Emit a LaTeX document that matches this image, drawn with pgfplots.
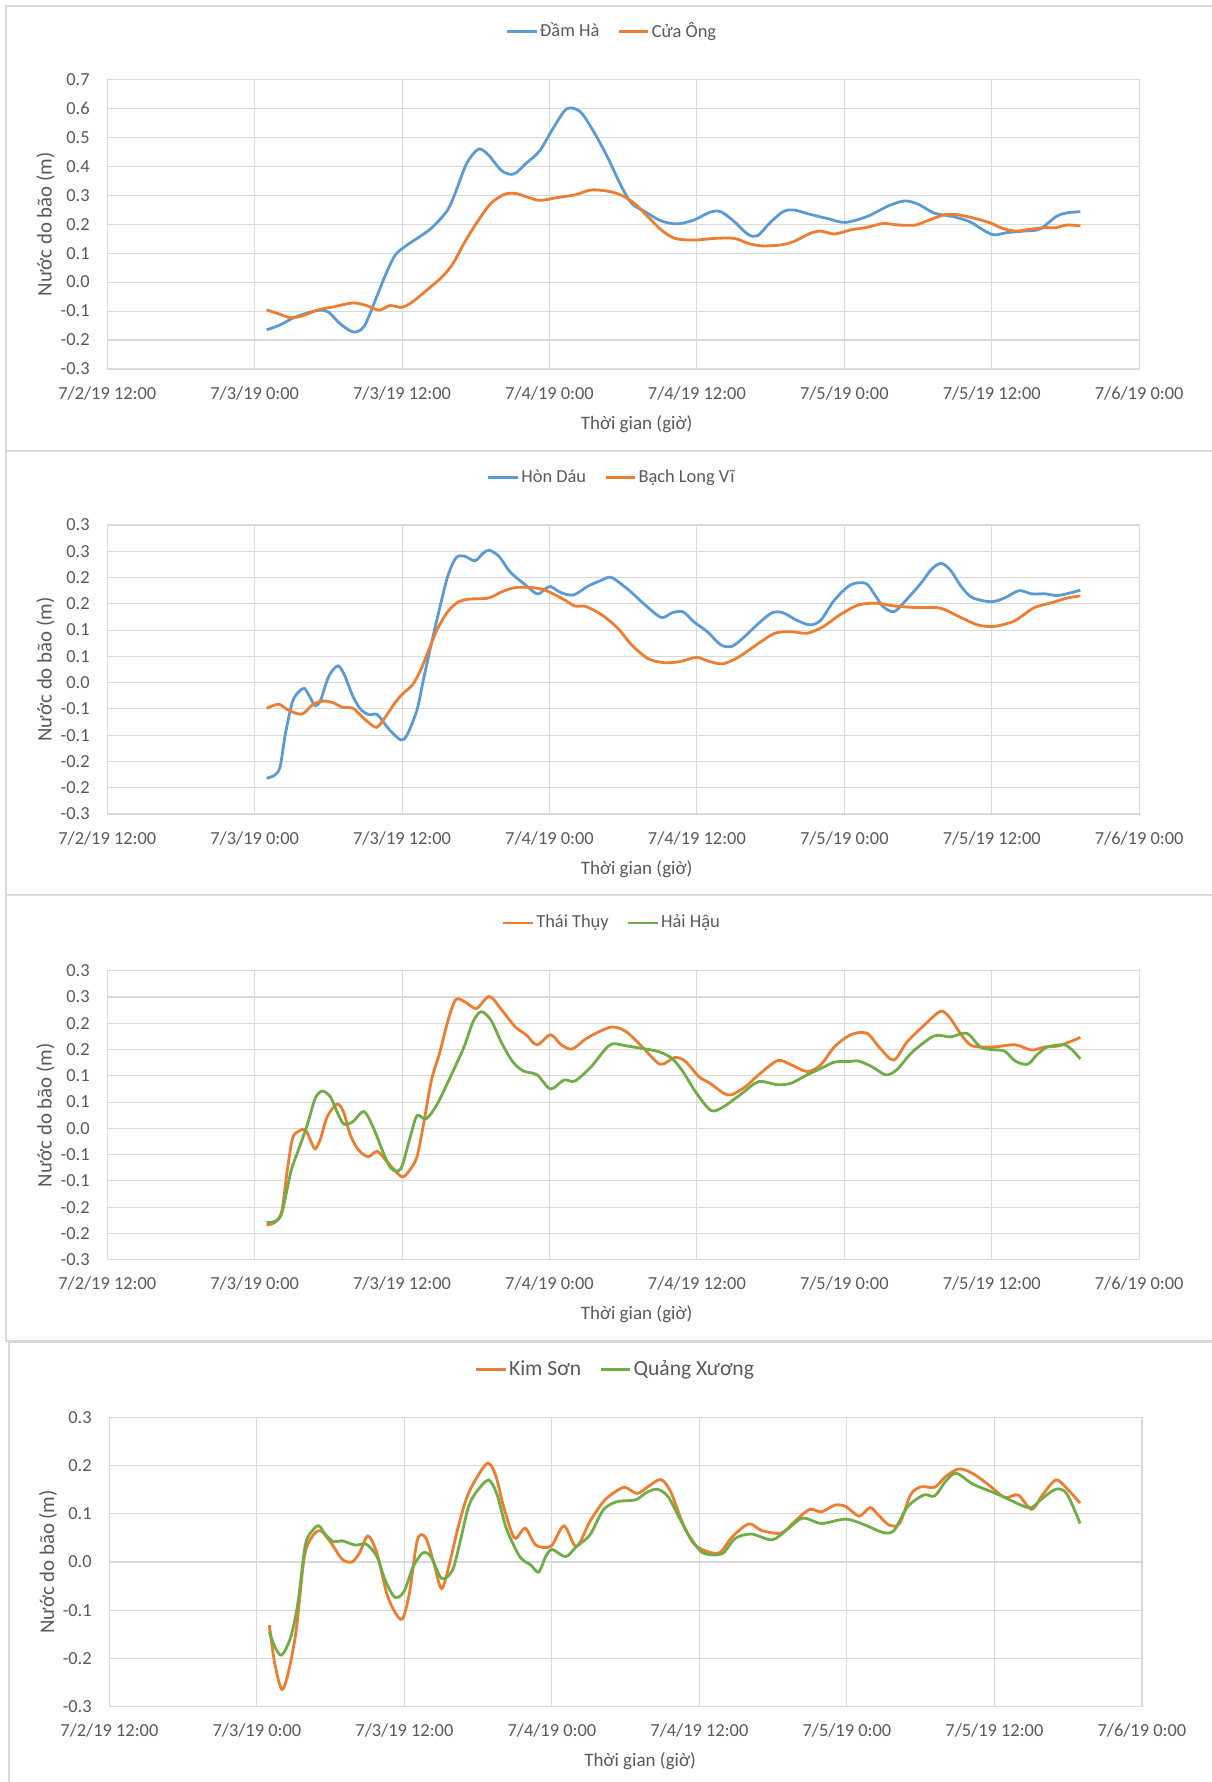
\documentclass[border=0pt]{standalone}
\usepackage{fontspec}
\setmainfont{Carlito}
\usepackage{pgfplots}
\pgfplotsset{compat=1.18}
\definecolor{cblue}{HTML}{5B9BD5}
\definecolor{corange}{HTML}{ED7D31}
\definecolor{cgreen}{HTML}{70AD47}
\definecolor{cgrid}{HTML}{D9D9D9}
\definecolor{ctext}{HTML}{595959}
\definecolor{cborder}{HTML}{D9D9D9}
\pgfplotsset{
  panel/.style={
    scale only axis, width=515.9pt, height=144.85pt,
    xmin=-12, xmax=72,
    xtick={-12,0,12,24,36,48,60,72},
    xticklabels={7/2/19 12:00,7/3/19 0:00,7/3/19 12:00,7/4/19 0:00,7/4/19 12:00,7/5/19 0:00,7/5/19 12:00,7/6/19 0:00},
    grid=major, major grid style={cgrid, line width=0.55pt},
    axis line style={cgrid, line width=0.6pt},
    major tick length=0pt,
    tick label style={font=\fontsize{9.2}{11}\selectfont, text=ctext},
    xticklabel style={inner sep=0pt, anchor=center, yshift=-12pt},
    yticklabel style={inner sep=0pt, anchor=east, xshift=-8.65pt},
    xlabel={Thời gian (giờ)},
    ylabel={Nước do bão (m)},
    label style={text=ctext},
    xlabel style={font=\fontsize{9.5}{11}\selectfont, at={(axis description cs:0.513,-0.19)}, anchor=center},
    ylabel style={font=\fontsize{10.4}{12}\selectfont, at={(axis description cs:-0.0599,0.5)}, anchor=center},
    legend columns=2,
    legend style={draw=none, fill=none, at={(axis description cs:0.489,1.165)}, anchor=center,
      font=\fontsize{9.2}{11}\selectfont, text=ctext,
      nodes={inner xsep=1pt, inner ysep=0.5pt},
      /tikz/every even column/.append style={column sep=8pt}},
    legend image code/.code={\draw[##1, line width=1.4pt] (0pt,0pt) -- (14.8pt,0pt);},
    every axis plot/.append style={line width=1.4pt, smooth, tension=0.5},
  }
}
\begin{document}
\begin{tikzpicture}
\useasboundingbox (0,0) rectangle (605.5pt,-891pt);
\draw[cborder, line width=0.7pt] (3pt,-3pt) rectangle (608pt,-225.5pt);
\draw[cborder, line width=0.7pt] (3pt,-225.5pt) rectangle (608pt,-447.5pt);
\draw[cborder, line width=0.7pt] (3pt,-447.5pt) rectangle (608pt,-670.5pt);
\draw[cborder, line width=0.7pt] (4.5pt,-671pt) rectangle (608pt,-896pt);
% ---------------- Panel 1
\begin{axis}[panel, anchor=south west, at={(53.65pt,-184.5pt)},
  ymin=-0.3, ymax=0.7, ytick={-0.3,-0.2,-0.1,0,0.1,0.2,0.3,0.4,0.5,0.6,0.7},
  yticklabels={-0.3,-0.2,-0.1,0.0,0.1,0.2,0.3,0.4,0.5,0.6,0.7}]
\addplot[cblue] coordinates {
(0.97,-0.165)(2.07,-0.148)(3.17,-0.123)(4.49,-0.104)(5.37,-0.097)(6.03,-0.104)(6.91,-0.142)(8.01,-0.172)(8.89,-0.154)(9.77,-0.068)(10.65,0.025)(11.45,0.094)(12.41,0.128)(13.73,0.165)(14.61,0.195)(15.71,0.249)(16.37,0.312)(17.26,0.410)(18.22,0.459)(19.02,0.439)(20.12,0.384)(21.09,0.373)(22.10,0.410)(23.20,0.453)(24.30,0.531)(25.40,0.598)(26.50,0.588)(27.60,0.519)(28.70,0.433)(29.80,0.335)(30.68,0.272)(31.78,0.243)(33.10,0.211)(34.42,0.201)(35.74,0.214)(37.06,0.241)(37.94,0.243)(39.04,0.209)(40.15,0.165)(40.94,0.160)(41.91,0.203)(43.01,0.243)(43.89,0.249)(45.21,0.234)(46.75,0.218)(48.07,0.206)(49.83,0.226)(51.59,0.263)(52.91,0.280)(54.01,0.269)(55.33,0.238)(56.87,0.226)(58.19,0.209)(59.30,0.180)(60.18,0.163)(61.28,0.171)(62.60,0.176)(63.92,0.183)(65.24,0.226)(66.12,0.239)(67.22,0.243)
};
\addlegendentry{Đầm Hà}
\addplot[corange] coordinates {
(0.97,-0.096)(1.85,-0.108)(2.95,-0.123)(4.05,-0.114)(5.15,-0.096)(6.47,-0.085)(8.01,-0.072)(9.11,-0.081)(10.13,-0.097)(11.01,-0.081)(11.97,-0.087)(12.85,-0.068)(14.17,-0.022)(15.28,0.019)(16.16,0.065)(17.04,0.134)(18.14,0.209)(19.24,0.272)(20.34,0.303)(21.22,0.306)(22.10,0.295)(23.20,0.282)(24.52,0.291)(26.06,0.301)(27.38,0.318)(28.70,0.314)(29.80,0.301)(30.90,0.272)(32.00,0.226)(33.10,0.180)(34.20,0.151)(35.74,0.145)(37.51,0.151)(39.04,0.151)(40.15,0.134)(41.25,0.125)(42.79,0.128)(43.89,0.140)(45.21,0.168)(46.09,0.176)(47.19,0.166)(48.51,0.180)(49.83,0.189)(51.15,0.202)(52.47,0.197)(53.79,0.197)(54.89,0.214)(56.21,0.233)(57.31,0.232)(58.63,0.220)(59.96,0.203)(60.84,0.186)(61.94,0.176)(63.04,0.182)(64.36,0.188)(65.24,0.188)(66.12,0.197)(67.22,0.194)
};
\addlegendentry{Cửa Ông}
\end{axis}
% ---------------- Panel 2
\begin{axis}[panel, anchor=south west, at={(53.65pt,-407pt)}, height=144.5pt,
  ymin=-0.25, ymax=0.3, ytick={-0.25,-0.2,-0.15,-0.1,-0.05,0,0.05,0.1,0.15,0.2,0.25,0.3},
  yticklabels={-0.3,-0.2,-0.2,-0.1,-0.1,0.0,0.1,0.1,0.2,0.2,0.3,0.3}]
\addplot[cblue] coordinates {
(0.97,-0.182)(1.63,-0.176)(2.07,-0.160)(2.51,-0.096)(3.08,-0.036)(3.61,-0.017)(4.05,-0.011)(4.49,-0.027)(4.93,-0.044)(5.37,-0.033)(6.03,0.012)(6.78,0.032)(7.35,0.012)(8.01,-0.027)(8.67,-0.052)(9.33,-0.061)(9.99,-0.061)(10.87,-0.087)(11.89,-0.109)(12.41,-0.099)(13.21,-0.052)(13.73,0.005)(14.39,0.075)(15.05,0.141)(15.71,0.202)(16.37,0.237)(17.04,0.241)(17.92,0.232)(18.58,0.246)(19.10,0.252)(19.90,0.240)(20.78,0.211)(21.88,0.189)(22.98,0.169)(23.64,0.178)(24.08,0.183)(24.96,0.171)(25.97,0.167)(27.16,0.184)(28.26,0.195)(29.05,0.200)(30.46,0.176)(31.78,0.148)(33.10,0.124)(33.98,0.133)(34.86,0.135)(35.74,0.116)(36.84,0.097)(37.94,0.072)(38.83,0.069)(39.71,0.084)(41.03,0.113)(42.13,0.133)(43.01,0.133)(44.11,0.119)(45.21,0.110)(46.09,0.119)(47.19,0.157)(48.51,0.186)(49.74,0.189)(50.49,0.167)(51.15,0.145)(52.03,0.135)(52.91,0.154)(54.23,0.189)(55.11,0.216)(55.89,0.227)(56.64,0.214)(57.52,0.183)(58.41,0.162)(59.94,0.154)(61.04,0.161)(62.23,0.175)(63.26,0.169)(64.36,0.169)(65.46,0.166)(67.22,0.176)
};
\addlegendentry{Hòn Dáu}
\addplot[corange] coordinates {
(0.97,-0.049)(1.94,-0.041)(2.73,-0.052)(3.83,-0.060)(4.71,-0.042)(5.59,-0.035)(6.47,-0.039)(7.13,-0.047)(8.01,-0.049)(8.89,-0.068)(9.90,-0.085)(10.65,-0.065)(11.31,-0.042)(11.97,-0.023)(12.85,-0.004)(13.51,0.024)(14.17,0.062)(14.83,0.100)(15.71,0.135)(16.60,0.154)(17.48,0.159)(19.02,0.161)(20.12,0.173)(21.22,0.181)(22.54,0.181)(23.64,0.176)(24.96,0.161)(26.06,0.146)(26.94,0.145)(28.26,0.129)(29.58,0.103)(30.68,0.072)(32.00,0.046)(33.31,0.038)(34.63,0.040)(35.96,0.048)(37.06,0.040)(38.16,0.036)(39.48,0.050)(41.03,0.075)(42.35,0.094)(43.67,0.097)(44.99,0.094)(46.31,0.107)(47.63,0.129)(49.17,0.148)(50.71,0.151)(52.03,0.146)(53.79,0.143)(55.77,0.142)(57.31,0.126)(58.85,0.110)(60.18,0.107)(61.72,0.116)(62.60,0.129)(63.48,0.143)(65.02,0.153)(66.12,0.161)(67.22,0.165)
};
\addlegendentry{Bạch Long Vĩ}
\end{axis}
% ---------------- Panel 3
\begin{axis}[panel, anchor=south west, at={(53.65pt,-629.85pt)}, height=144.5pt,
  ymin=-0.25, ymax=0.3, ytick={-0.25,-0.2,-0.15,-0.1,-0.05,0,0.05,0.1,0.15,0.2,0.25,0.3},
  yticklabels={-0.3,-0.2,-0.2,-0.1,-0.1,0.0,0.1,0.1,0.2,0.2,0.3,0.3}]
\addplot[corange] coordinates {
(0.97,-0.184)(1.63,-0.179)(2.20,-0.158)(2.64,-0.082)(3.08,-0.019)(3.61,-0.005)(4.14,-0.003)(4.58,-0.025)(4.93,-0.039)(5.37,-0.019)(5.90,0.022)(6.69,0.046)(7.22,0.032)(7.79,-0.013)(8.45,-0.041)(9.24,-0.054)(9.99,-0.044)(10.87,-0.066)(11.97,-0.092)(12.63,-0.079)(13.21,-0.054)(13.73,0.006)(14.39,0.092)(15.05,0.143)(15.71,0.203)(16.37,0.245)(17.17,0.240)(18.05,0.228)(19.10,0.251)(20.12,0.225)(21.22,0.193)(22.10,0.178)(22.98,0.159)(24.08,0.178)(24.96,0.159)(25.84,0.151)(26.94,0.170)(28.04,0.184)(29.14,0.193)(30.24,0.184)(31.56,0.155)(33.01,0.122)(34.20,0.135)(35.08,0.127)(36.18,0.098)(37.06,0.086)(38.16,0.067)(38.83,0.064)(39.93,0.079)(41.03,0.102)(42.57,0.129)(43.67,0.121)(44.99,0.108)(46.09,0.121)(47.19,0.155)(48.51,0.178)(49.83,0.181)(50.93,0.152)(52.03,0.130)(53.13,0.165)(54.67,0.200)(55.86,0.223)(56.64,0.209)(57.52,0.178)(58.41,0.157)(60.16,0.155)(61.92,0.159)(63.24,0.149)(64.34,0.155)(65.46,0.157)(67.22,0.173)
};
\addlegendentry{Thái Thụy}
\addplot[cgreen] coordinates {
(0.97,-0.179)(1.63,-0.177)(2.20,-0.162)(2.95,-0.082)(3.61,-0.038)(4.27,0.006)(4.93,0.057)(5.50,0.071)(6.16,0.060)(6.69,0.032)(7.26,0.008)(8.01,0.013)(8.89,0.032)(9.68,0.000)(10.43,-0.044)(11.09,-0.076)(11.89,-0.077)(12.63,-0.019)(13.21,0.024)(13.95,0.018)(14.83,0.045)(15.93,0.098)(17.04,0.155)(17.78,0.203)(18.44,0.222)(19.23,0.206)(20.12,0.162)(21.00,0.127)(21.88,0.109)(22.98,0.102)(24.08,0.075)(25.18,0.092)(26.06,0.090)(27.38,0.117)(28.48,0.149)(29.14,0.161)(30.24,0.157)(31.56,0.152)(32.88,0.146)(33.98,0.133)(34.86,0.108)(35.96,0.067)(37.15,0.034)(38.16,0.041)(39.70,0.067)(41.03,0.089)(42.57,0.083)(43.67,0.086)(44.99,0.102)(46.09,0.114)(47.19,0.126)(48.29,0.127)(49.17,0.128)(50.27,0.117)(51.37,0.102)(52.25,0.111)(53.57,0.146)(55.33,0.176)(56.64,0.174)(57.96,0.181)(59.06,0.155)(59.94,0.150)(61.04,0.147)(61.92,0.128)(62.93,0.122)(63.68,0.140)(64.56,0.155)(65.88,0.159)(66.56,0.149)(67.22,0.132)
};
\addlegendentry{Hải Hậu}
\end{axis}
% ---------------- Panel 4
\begin{axis}[panel, anchor=south west, at={(54.7pt,-853.35pt)}, width=516.25pt, height=144.7pt,
  ymin=-0.3, ymax=0.3, ytick={-0.3,-0.2,-0.1,0,0.1,0.2,0.3},
  yticklabels={-0.3,-0.2,-0.1,0.0,0.1,0.2,0.3},
  xlabel style={at={(axis description cs:0.514,-0.187)}, anchor=center},
  ylabel style={at={(axis description cs:-0.0594,0.5)}, anchor=center},
  legend style={at={(axis description cs:0.49,1.165)}, font=\fontsize{10.8}{13}\selectfont}]
\addplot[corange] coordinates {
(1.01,-0.131)(1.45,-0.210)(2.02,-0.264)(2.54,-0.231)(3.20,-0.141)(3.86,0.011)(4.51,0.053)(5.17,0.065)(6.05,0.039)(6.93,0.006)(7.71,0.000)(8.33,0.018)(9.03,0.054)(9.77,0.018)(10.65,-0.072)(11.75,-0.119)(12.40,-0.065)(13.06,0.046)(13.72,0.051)(14.38,-0.001)(15.03,-0.055)(15.69,-0.001)(16.35,0.070)(17.01,0.129)(17.66,0.165)(18.76,0.205)(19.42,0.180)(20.07,0.115)(20.95,0.050)(21.83,0.070)(22.70,0.035)(23.93,0.033)(24.98,0.075)(25.99,0.032)(27.09,0.084)(28.18,0.125)(29.06,0.144)(29.94,0.155)(30.94,0.142)(31.91,0.158)(32.87,0.171)(33.66,0.146)(34.54,0.087)(35.42,0.042)(36.29,0.025)(37.61,0.019)(38.70,0.053)(40.02,0.079)(41.11,0.065)(42.65,0.060)(43.74,0.084)(44.97,0.109)(45.93,0.104)(47.03,0.118)(47.91,0.115)(49.00,0.095)(49.88,0.113)(50.54,0.098)(51.41,0.077)(52.29,0.080)(53.17,0.139)(54.04,0.156)(55.14,0.155)(56.02,0.177)(57.11,0.193)(58.21,0.184)(59.53,0.160)(60.84,0.134)(61.93,0.139)(63.03,0.109)(63.91,0.139)(65.00,0.170)(65.88,0.153)(66.97,0.122)
};
\addlegendentry{Kim Sơn}
\addplot[cgreen] coordinates {
(1.01,-0.144)(1.45,-0.175)(2.02,-0.193)(2.76,-0.155)(3.33,-0.086)(3.94,0.035)(4.51,0.065)(5.04,0.075)(5.61,0.056)(6.27,0.042)(6.93,0.044)(8.02,0.035)(8.90,0.037)(9.77,0.011)(10.43,-0.037)(11.22,-0.073)(11.97,-0.061)(12.71,-0.010)(13.50,0.019)(14.16,0.011)(15.03,-0.034)(15.91,-0.017)(16.57,0.046)(17.22,0.115)(17.88,0.146)(18.85,0.170)(19.55,0.139)(20.29,0.070)(21.39,0.011)(22.27,-0.006)(22.92,-0.021)(23.49,0.011)(24.02,0.026)(25.11,0.011)(25.99,0.032)(27.09,0.056)(28.18,0.108)(29.28,0.125)(30.81,0.129)(31.69,0.144)(32.57,0.151)(33.44,0.136)(34.32,0.094)(35.20,0.053)(36.29,0.019)(37.83,0.017)(38.92,0.049)(40.24,0.058)(41.90,0.046)(43.08,0.066)(44.40,0.091)(45.93,0.080)(47.91,0.089)(49.44,0.077)(50.98,0.061)(51.85,0.066)(52.95,0.115)(54.26,0.139)(55.14,0.137)(56.02,0.167)(56.89,0.184)(58.21,0.162)(59.74,0.146)(60.84,0.134)(62.16,0.118)(63.03,0.113)(63.91,0.132)(65.00,0.151)(65.88,0.142)(66.97,0.080)
};
\addlegendentry{Quảng Xương}
\end{axis}
\end{tikzpicture}
\end{document}
